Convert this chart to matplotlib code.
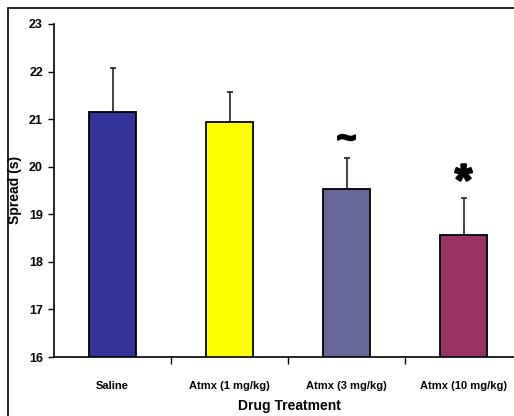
import numpy as np
import matplotlib.pyplot as plt
import matplotlib.patheffects as pe
from matplotlib.patches import Rectangle

plt.rcParams['font.family'] = ['Liberation Sans', 'DejaVu Sans']

groups = ['Saline', 'Atmx (1 mg/kg)', 'Atmx (3 mg/kg)', 'Atmx (10 mg/kg)']
spread = [21.15, 20.93, 19.53, 18.56]
sem = [0.93, 0.65, 0.65, 0.79]
colors = ['#333399', '#FFFF00', '#666699', '#993366']
marks = ['', '', '~', '*']

fig = plt.figure(figsize=(5.14, 4.16), dpi=100)
# outer chart frame (cropped on right / bottom like the original)
fig.patches.append(Rectangle((8 / 514, -0.1), 1.2, 1 - 8 / 416 + 0.1,
                             transform=fig.transFigure, fill=False,
                             edgecolor='black', linewidth=1.2))

ax = fig.add_axes([54 / 514, 1 - 357 / 416, 468 / 514, 333 / 416])
x = np.arange(len(groups))
ax.bar(x, spread, width=0.41, color=colors, edgecolor='black', linewidth=1.3,
       zorder=2)
ax.errorbar(x, spread, yerr=[np.zeros(len(sem)), sem], fmt='none',
            ecolor='#222222', elinewidth=1.2, capsize=2.5, capthick=1.2,
            zorder=1)

thick = [pe.withStroke(linewidth=1.5, foreground='black')]
for xi, m, v, e in zip(x, marks, spread, sem):
    if m == '~':
        ax.text(xi, v + e + 0.38, m, ha='center', va='center', fontsize=24,
                fontweight='bold', path_effects=thick)
    elif m == '*':
        ax.text(xi, v + e + 0.30, m, ha='center', va='center', fontsize=32,
                fontweight='bold', path_effects=thick)

ax.set_ylim(16, 23)
ax.set_xlim(-0.5, len(groups) - 0.5)
ax.set_yticks(np.arange(16, 24, 1))
ax.set_xticks(x)
ax.set_xticklabels(groups, fontsize=8, fontweight='bold')
ax.tick_params(axis='x', length=0, pad=17)
ax.set_xticks(np.arange(0.5, len(groups) - 0.5, 1), minor=True)
ax.tick_params(axis='x', which='minor', length=5, width=1, direction='out')
ax.tick_params(axis='y', length=4, width=1, direction='out', labelsize=9, pad=4)
for lab in ax.get_yticklabels():
    lab.set_fontweight('bold')

for s in ['top', 'right']:
    ax.spines[s].set_visible(False)
for s in ['left', 'bottom']:
    ax.spines[s].set_linewidth(1.2)

fig.text(15 / 514, 1 - 190 / 416, 'Spread (s)', rotation=90, ha='center',
         va='center', fontsize=10, fontweight='bold')
fig.text(289 / 514, 1 - 406 / 416, 'Drug Treatment', ha='center',
         va='center', fontsize=10, fontweight='bold')

fig.savefig('out.png', dpi=100)
